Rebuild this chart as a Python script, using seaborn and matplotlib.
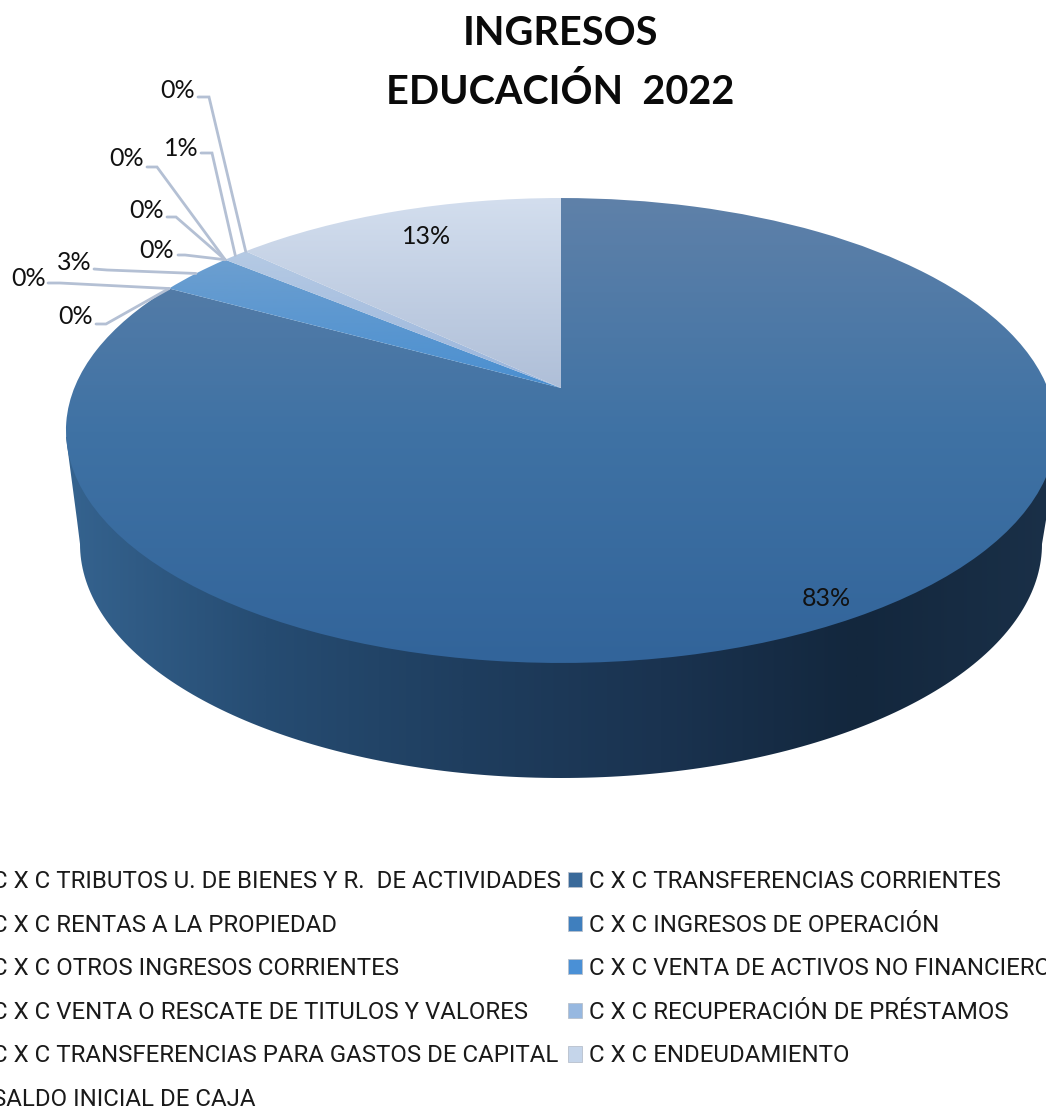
# -*- coding: utf-8 -*-

"""Ingresos educacion 2022, tilted pie with a side wall, as in the spreadsheet chart."""

import matplotlib

matplotlib.use("Agg")

import matplotlib.pyplot as plt
import numpy as np
import seaborn as sns
from matplotlib.patches import Patch, Polygon
from matplotlib.transforms import Transform

TITLE = "INGRESOS\nEDUCACIÓN  2022"

# slices clockwise from twelve o'clock, as labelled on the chart
SLICE_SHARES = [83, 0, 0, 3, 0, 0, 0, 1, 0, 13]

# legend in reading order, two columns
LEGEND_NAMES = [
    "C X C TRIBUTOS U. DE BIENES Y R.  DE ACTIVIDADES",
    "C X C TRANSFERENCIAS CORRIENTES",
    "C X C RENTAS A LA PROPIEDAD",
    "C X C INGRESOS DE OPERACIÓN",
    "C X C OTROS INGRESOS CORRIENTES",
    "C X C VENTA DE ACTIVOS NO FINANCIEROS",
    "C X C VENTA O RESCATE DE TITULOS Y VALORES",
    "C X C RECUPERACIÓN DE PRÉSTAMOS",
    "C X C TRANSFERENCIAS PARA GASTOS DE CAPITAL",
    "C X C ENDEUDAMIENTO",
    "SALDO INICIAL DE CAJA",
]
LEGEND_COLORS = [
    "#2f5a85", "#3a6a9a", "#3a74ad", "#3f7fbe", "#4488c8", "#4a90d6",
    "#7aa7dc", "#97b8e0", "#adc6e6", "#c5d5ea", "#d8e2f0",
]

# gradient stops of each slice, top to bottom
SLICE_STOPS = [
    ["#5f81a9", "#3f72a4", "#32649a"],
    ["#3a6a9a", "#3a6a9a"],
    ["#3f7fbe", "#3f7fbe"],
    ["#6c9fd0", "#4a8fd0"],
    ["#7aa7dc", "#7aa7dc"],
    ["#97b8e0", "#97b8e0"],
    ["#a5c0e2", "#a5c0e2"],
    ["#b5cae4", "#9ab5dc"],
    ["#c5d5ea", "#c5d5ea"],
    ["#d3deee", "#afbfd8"],
]
WALL_COLORS = ["#35638f", "#264c72", "#1f3e5f", "#1a3350", "#13273d", "#1a3048"]

# label centres and leader elbows, in picture pixels
LABEL_XY = [(826, 599), (76, 317), (29, 278), (74, 263), (157, 251),
            (147, 211), (127, 159), (181, 148), (178, 91), (427, 237)]
LEADER_ELBOWS = [
    None,
    [(96, 324), (106, 324)],
    [(48, 283), (60, 283)],
    [(94, 269), (107, 270)],
    [(178, 255), (185, 255)],
    [(167, 217), (176, 217)],
    [(147, 167), (157, 167)],
    [(201, 153), (212, 153)],
    [(198, 97), (209, 97)],
    None,
]

WIDTH, HEIGHT = 1046, 1106
CENTER_X, CENTER_Y = 561, 388
SCALE_X, SCALE_Y, TILT = 486.7, 224.7, 0.1828


class PieTilt(Transform):
    """Maps the unit circle of ax.pie on the tilted disc, in picture pixels."""

    input_dims = output_dims = 2

    def transform_non_affine(self, values):
        u, v = np.asarray(values, dtype=float).T
        w = 1 + TILT * v
        return np.column_stack([CENTER_X + SCALE_X * u / w, CENTER_Y - SCALE_Y * v / w])


sns.set_theme(style="white")
plt.rcParams["font.family"] = ["Lato", "DejaVu Sans"]
legend_font = {"family": ["Roboto", "Liberation Sans"], "size": 17.25}

fig = plt.figure(figsize=(WIDTH / 100, HEIGHT / 100), dpi=100)
ax = fig.add_axes([0, 0, 1, 1])

wedges, _ = ax.pie(SLICE_SHARES, startangle=90, counterclock=False, normalize=True)

# side wall
outer = np.radians(np.linspace(180, 0, 181))
wall_xy = [(66, 437), (77, 520)]
wall_xy += list(zip(561 + 481 * np.cos(outer), 544 + 234 * np.sin(outer)))
wall_xy += [(1046, 520), (1056, 437)]
wall = Polygon(wall_xy, closed=True, facecolor="none", edgecolor="none", transform=ax.transData)
ax.add_patch(wall)
wall_cmap = sns.blend_palette(WALL_COLORS, as_cmap=True)
wall_image = ax.imshow(
    np.linspace(0, 1, 512)[None, :],
    cmap=wall_cmap,
    extent=(66, 1056, 790, 430),
    aspect="auto",
    interpolation="bilinear",
    zorder=1,
)
wall_image.set_clip_path(wall)

# top of the disc
tilt = PieTilt()
for wedge, share, stops in zip(wedges, SLICE_SHARES, SLICE_STOPS):
    wedge.set_transform(tilt + ax.transData)
    wedge.set_facecolor("none")
    wedge.set_edgecolor("none")
    if share == 0:
        continue
    ys = tilt.transform(wedge.get_path().vertices)[:, 1]
    image = ax.imshow(
        np.linspace(0, 1, 256)[:, None],
        cmap=sns.blend_palette(stops, as_cmap=True),
        extent=(0, WIDTH, ys.max(), ys.min()),
        aspect="auto",
        origin="upper",
        interpolation="bilinear",
        zorder=2,
    )
    image.set_clip_path(wedge)

# percent labels and leaders
cumulative = np.cumsum(SLICE_SHARES) - np.array(SLICE_SHARES) / 2
for share, middle, (x, y), elbow in zip(SLICE_SHARES, cumulative, LABEL_XY, LEADER_ELBOWS):
    ax.text(x, y, f"{share}%", ha="center", va="center", fontsize=18, color="#111111", zorder=5)
    if elbow is None:
        continue
    angle = np.radians(middle * 3.6)
    rim = tilt.transform(np.array([[np.sin(angle), np.cos(angle)]]))[0]
    xs, ys = zip(*elbow, rim)
    ax.plot(xs, ys, color="#b4c0d4", lw=2, solid_joinstyle="miter", zorder=3)

ax.text(560, 63, TITLE, ha="center", va="center", fontsize=28.5, fontweight="bold",
        color="#0a0a0a", linespacing=1.7)

handles = [Patch(facecolor=c, edgecolor="#b8c0cc", lw=0.6) for c in LEGEND_COLORS]
handles = handles[0::2] + handles[1::2]
names = LEGEND_NAMES[0::2] + LEGEND_NAMES[1::2]
ax.legend(
    handles,
    names,
    ncols=2,
    loc="upper left",
    bbox_to_anchor=(-30, 870),
    bbox_transform=ax.transData,
    frameon=False,
    prop=legend_font,
    labelcolor="#1a1a1a",
    handlelength=0.6,
    handleheight=0.6,
    handletextpad=0.3,
    columnspacing=0.3,
    labelspacing=0.86,
    borderpad=0,
    borderaxespad=0,
)

ax.set_aspect("auto")
ax.set_xlim(0, WIDTH)
ax.set_ylim(HEIGHT, 0)
ax.set_axis_off()

fig.savefig("out.png", dpi=100)
plt.close(fig)
